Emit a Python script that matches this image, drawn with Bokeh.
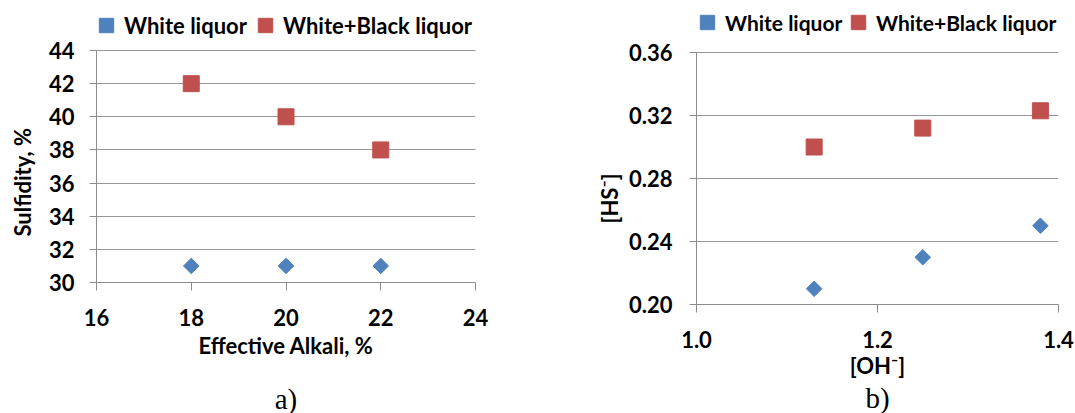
import math
from bokeh.plotting import figure
from bokeh.models import (Range1d, FixedTicker, Legend, LegendItem, Title,
                          LinearAxis, NumeralTickFormatter)
from bokeh.layouts import row
from bokeh.embed import file_html
from bokeh.resources import INLINE

# ---------------- data ----------------
series_names = ["White liquor", "White+Black liquor"]

# chart a)
ea = [18, 20, 22]
sulfidity_white = [31, 31, 31]
sulfidity_white_black = [42, 40, 38]
xticks_a = [16, 18, 20, 22, 24]
yticks_a = [30, 32, 34, 36, 38, 40, 42, 44]

# chart b)
oh_white = [1.13, 1.25, 1.38]
hs_white = [0.21, 0.23, 0.25]
oh_white_black = [1.13, 1.25, 1.38]
hs_white_black = [0.300, 0.312, 0.323]
xticks_b = [1.0, 1.2, 1.4]
yticks_b = [0.20, 0.24, 0.28, 0.32, 0.36]

# ---------------- style ----------------
BLUE = "#4F81BD"
RED = "#C0504D"
AXIS = "#8C8C8C"
GRID = "#979797"
FONT = "Lato"
FS = "22px"
SERIF = "Liberation Serif"
G = 36


def make_fig(fw, fh, left, right, bottom, xr, yticks, top_px, xticks, ystand):
    # the frame also holds the legend strip above the top gridline
    y0, y1 = yticks[0], yticks[-1]
    y_end = y1 + top_px * (y1 - y0) / (fh - top_px)
    p = figure(width=left + fw + right, height=fh + bottom,
               frame_width=fw, frame_height=fh,
               min_border_left=left, min_border_right=right,
               min_border_top=0, min_border_bottom=bottom,
               x_range=Range1d(*xr), y_range=Range1d(y0, y_end),
               output_backend="svg", toolbar_location=None)
    p.outline_line_color = None
    p.xgrid.visible = False
    p.ygrid.ticker = FixedTicker(ticks=yticks)
    p.ygrid.grid_line_color = GRID
    p.ygrid.grid_line_width = 1
    for ax, t in ((p.xaxis, xticks), (p.yaxis, yticks)):
        ax.ticker = FixedTicker(ticks=t)
        ax.axis_line_color = AXIS
        ax.major_tick_line_color = AXIS
        ax.minor_tick_line_color = None
        ax.major_tick_in = 0
        ax.major_label_text_font = FONT
        ax.major_label_text_font_style = "bold"
        ax.major_label_text_font_size = FS
        ax.major_label_text_color = "black"
        ax.axis_label_text_font = FONT
        ax.axis_label_text_font_style = "bold"
        ax.axis_label_text_font_size = FS
        ax.axis_label_text_color = "black"
    p.yaxis.bounds = (y0, y1)
    p.yaxis.major_tick_out = 7
    p.xaxis.major_tick_out = 8
    p.yaxis.major_label_standoff = ystand
    p.xaxis.major_label_standoff = 18
    return p


def add_caption(p, text, tick, standoff):
    cap = LinearAxis(ticker=FixedTicker(ticks=[tick]), axis_line_color=None,
                     major_tick_line_color=None, minor_tick_line_color=None,
                     major_tick_out=0, major_tick_in=0, major_label_standoff=0,
                     major_label_text_font_size="1px", major_label_text_alpha=0,
                     axis_label=text, axis_label_standoff=standoff,
                     axis_label_text_font=SERIF, axis_label_text_font_size="29px",
                     axis_label_text_font_style="normal",
                     axis_label_text_color="black")
    p.add_layout(cap, "below")


def add_ytitle(p, text, offset, standoff):
    p.add_layout(Title(text=text, align="left", offset=offset,
                       vertical_align="top", standoff=standoff,
                       text_font=FONT, text_font_size=FS,
                       text_font_style="bold", text_color="black"), "left")


def add_legend_item(p, name, r, loc, standoff, fs):
    lg = Legend(items=[LegendItem(label=name, renderers=[r])],
                location=loc, orientation="horizontal",
                glyph_width=G, glyph_height=G, label_standoff=standoff,
                padding=0, margin=0, spacing=0,
                background_fill_alpha=0, border_line_alpha=0,
                label_text_font=FONT, label_text_font_style="bold",
                label_text_font_size=fs, label_text_color="black")
    p.add_layout(lg, "center")


# ---------------- chart a ----------------
FHa = 282
pa = make_fig(379, FHa, 94, 67, 131, (16, 24), yticks_a, 50, xticks_a, 15)
pa.xaxis.axis_label = "Effective Alkali, %"
pa.xaxis.axis_label_standoff = 3
ra1 = pa.scatter(ea, sulfidity_white, marker="square", angle=math.pi / 4,
                 size=11, color=BLUE)
ra2 = pa.scatter(ea, sulfidity_white_black, marker="square", size=16, color=RED)
add_legend_item(pa, series_names[0], ra1, (-8, FHa - 43), -5, "22px")
add_legend_item(pa, series_names[1], ra2, (151, FHa - 43), -5, "22px")
add_ytitle(pa, "Sulfidity, %", 46, 16)
add_caption(pa, "a)", xticks_a[0], 21)

# ---------------- chart b ----------------
FHb = 304
pb = make_fig(362, FHb, 154, 19, 109, (1.0, 1.4), yticks_b, 52, xticks_b, 17)
pb.xaxis.axis_label = "[OH\u207b]"
pb.xaxis.axis_label_standoff = 1
pb.xaxis.formatter = NumeralTickFormatter(format="0.0")
pb.yaxis.formatter = NumeralTickFormatter(format="0.00")
rb1 = pb.scatter(oh_white, hs_white, marker="square", angle=math.pi / 4,
                 size=11, color=BLUE)
rb2 = pb.scatter(oh_white_black, hs_white_black, marker="square", size=16, color=RED)
add_legend_item(pb, series_names[0], rb1, (-7, FHb - 40), -4, "21px")
add_legend_item(pb, series_names[1], rb2, (144, FHb - 40), -4, "21px")
add_ytitle(pb, "[HS\u207b]", 81, 1)
add_caption(pb, "b)", xticks_b[0], 0)

layout = row(pa, pb)
open("out.html", "w").write(file_html(layout, INLINE))
